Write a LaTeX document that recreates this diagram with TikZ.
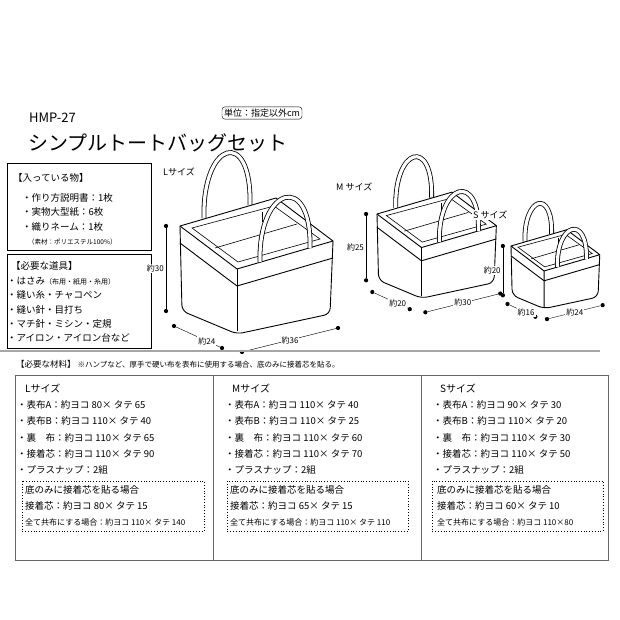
\documentclass[tikz,border=0pt]{standalone}
\usepackage{fontspec}
\setmainfont{Noto Sans CJK JP}
\usetikzlibrary{positioning}

\tikzset{
  bagline/.style={line width=0.9pt, line join=round},
  handle/.style={line width=0.8pt, double=white, double distance=3.2pt},
  dimdot/.style={circle, fill=black, inner sep=1.5pt},
  dimtext/.style={font=\fontsize{8}{9}\selectfont, inner sep=1pt, fill=white},
  item/.style={anchor=west, font=\fontsize{9.5}{11}\selectfont, inner sep=0pt},
  small/.style={anchor=west, font=\fontsize{8}{9}\selectfont, inner sep=0pt},
  sizehead/.style={anchor=west, font=\fontsize{10}{12}\selectfont, inner sep=0pt},
  baglabel/.style={anchor=west, font=\fontsize{9}{10}\selectfont, inner sep=1pt, fill=white},
  framebox/.style={draw, line width=0.8pt},
}

% one tote bag: x, y, scale, height, depth, width
\newcommand{\bag}[6]{%
  \begin{scope}[shift={(#1,#2)}, scale=#3]
    \coordinate (blt) at (0,0);
    \coordinate (flt) at (57,43);
    \coordinate (frt) at (153,15);
    \coordinate (brt) at (96,-28);
    \coordinate (blb) at (2,85);
    \coordinate (flb) at (57,108);
    \coordinate (frb) at (150,88);
    % back handle
    \draw[handle] (24,-8) .. controls (22,-85) and (72,-100) .. (70,-21);
    % body
    \fill[white] (blt) -- (brt) -- (frt) -- (frb) -- (flb) -- (blb) -- cycle;
    \draw[bagline, rounded corners=6pt] (blt) -- (blb) -- (flb) -- (frb) -- (frt);
    \draw[bagline] (blt) -- (brt) -- (frt) -- (flt) -- cycle;
    \draw[bagline] (flt) -- (57,105);
    \draw[bagline] (0,17) -- (57,60) -- (153,32);
    % inner rim and partition
    \draw[line width=0.6pt] (12,2) -- (94,-20) -- (140,13) -- (58,36) -- cycle;
    \draw[line width=0.6pt] (35,22) -- (117,-2);
    \draw[line width=0.6pt] (82,-14) -- (82,-4);
    % front handle
    \draw[handle] (80,36) .. controls (78,-40) and (132,-55) .. (130,22);
    % dimensions
    \node[dimdot] (ht) at (-14,0) {};
    \node[dimdot] (hb) at (-14,85) {};
    \draw (ht) -- node[dimtext, left=1pt] {#4} (hb);
    \node[dimdot] (dl) at (-6,100) {};
    \node[dimdot] (dr) at (42,122) {};
    \draw (dl) -- node[dimtext, pos=0.7] {#5} (dr);
    \node[dimdot] (wl) at (62,126) {};
    \node[dimdot] (wr) at (158,102) {};
    \draw (wl) -- node[dimtext] {#6} (wr);
  \end{scope}}

\begin{document}
\begin{tikzpicture}[x=1pt, y=-1pt]
  \useasboundingbox[fill=white] (0,0) rectangle (620,620);

  % title
  \node[anchor=west, font=\fontsize{13}{14}\selectfont, inner sep=0pt] (code) at (29,118) {HMP-27};
  \node[anchor=west, font=\fontsize{20}{22}\selectfont, inner sep=0pt] (title) at (28,143) {シンプルトートバッグセット};
  \node[draw, rounded corners=3pt, font=\fontsize{9}{10}\selectfont, inner sep=2pt] (unit) at (262,113) {単位：指定以外cm};

  % contents box
  \draw[framebox] (7,163) rectangle (151,250);
  \node[item] (c0) at (13,178) {【入っている物】};
  \node[item] (c1) at (22,198) {・作り方説明書：1枚};
  \node[item] (c2) at (22,212) {・実物大型紙：6枚};
  \node[item] (c3) at (22,227) {・織りネーム：1枚};
  \node[small, font=\fontsize{6.5}{7}\selectfont] (c4) at (28,242) {（素材：ポリエステル100\%）};

  % tools box
  \draw[framebox] (7,254) rectangle (151,348);
  \node[item] (t0) at (11,266) {【必要な道具】};
  \node[item] (t1) at (7,281) {・はさみ\fontsize{7}{8}\selectfont（布用・紙用・糸用）};
  \node[item] (t2) at (7,295) {・縫い糸・チャコペン};
  \node[item] (t3) at (7,310) {・縫い針・目打ち};
  \node[item] (t4) at (7,324) {・マチ針・ミシン・定規};
  \node[item] (t5) at (7,338) {・アイロン・アイロン台など};

  % bags
  \bag{180}{226}{1}{約30}{約24}{約36}
  \bag{377}{214}{0.78}{約25}{約20}{約30}
  \bag{511}{246}{0.58}{約20}{約16}{約24}
  \node[baglabel] (lsize) at (162,172) {Lサイズ};
  \node[baglabel] (msize) at (335,187) {M サイズ};
  \node[baglabel] (ssize) at (472,215) {S サイズ};

  % materials
  \draw[line width=2pt, gray!70] (0,351) -- (600,351);
  \node[anchor=west, font=\fontsize{8.5}{10}\selectfont, inner sep=0pt] (mhead) at (16,364)
    {【必要な材料】\ \fontsize{7.5}{9}\selectfont ※ハンプなど、厚手で硬い布を表布に使用する場合、底のみに接着芯を貼る。};
  \draw[framebox, gray!80!black] (15,375) rectangle (608,560);
  \draw[framebox, gray!80!black] (213,375) -- (213,560);
  \draw[framebox, gray!80!black] (421,375) -- (421,560);

  % L column
  \node[sizehead] (la) at (25,388) {Lサイズ};
  \node[item] (l1) at (17,405) {・表布A：約ヨコ 80× タテ 65};
  \node[item] (l2) at (17,421) {・表布B：約ヨコ 110× タテ 40};
  \node[item] (l3) at (17,438) {・裏\quad 布：約ヨコ 110× タテ 65};
  \node[item] (l4) at (17,454) {・接着芯：約ヨコ 110× タテ 90};
  \node[item] (l5) at (17,470) {・プラスナップ：2組};
  \draw[dotted, thick] (22,481) rectangle (204,531);
  \node[item] (l6) at (25,490) {底のみに接着芯を貼る場合};
  \node[item] (l7) at (25,506) {接着芯：約ヨコ 80× タテ 15};
  \node[small] (l8) at (25,522) {全て共布にする場合：約ヨコ 110× タテ 140};

  % M column
  \node[sizehead] (ma) at (232,388) {Mサイズ};
  \node[item] (m1) at (225,405) {・表布A：約ヨコ 110× タテ 40};
  \node[item] (m2) at (225,421) {・表布B：約ヨコ 110× タテ 25};
  \node[item] (m3) at (225,438) {・裏\quad 布：約ヨコ 110× タテ 60};
  \node[item] (m4) at (225,454) {・接着芯：約ヨコ 110× タテ 70};
  \node[item] (m5) at (225,470) {・プラスナップ：2組};
  \draw[dotted, thick] (227,481) rectangle (408,531);
  \node[item] (m6) at (230,490) {底のみに接着芯を貼る場合};
  \node[item] (m7) at (230,506) {接着芯：約ヨコ 65× タテ 15};
  \node[small] (m8) at (230,522) {全て共布にする場合：約ヨコ 110× タテ 110};

  % S column
  \node[sizehead] (sa) at (440,388) {Sサイズ};
  \node[item] (s1) at (433,405) {・表布A：約ヨコ 90× タテ 30};
  \node[item] (s2) at (433,421) {・表布B：約ヨコ 110× タテ 20};
  \node[item] (s3) at (433,438) {・裏\quad 布：約ヨコ 110× タテ 30};
  \node[item] (s4) at (433,454) {・接着芯：約ヨコ 110× タテ 50};
  \node[item] (s5) at (433,470) {・プラスナップ：2組};
  \draw[dotted, thick] (432,481) rectangle (603,531);
  \node[item] (s6) at (437,490) {底のみに接着芯を貼る場合};
  \node[item] (s7) at (437,506) {接着芯：約ヨコ 60× タテ 10};
  \node[small] (s8) at (437,522) {全て共布にする場合：約ヨコ 110×80};
\end{tikzpicture}
\end{document}
